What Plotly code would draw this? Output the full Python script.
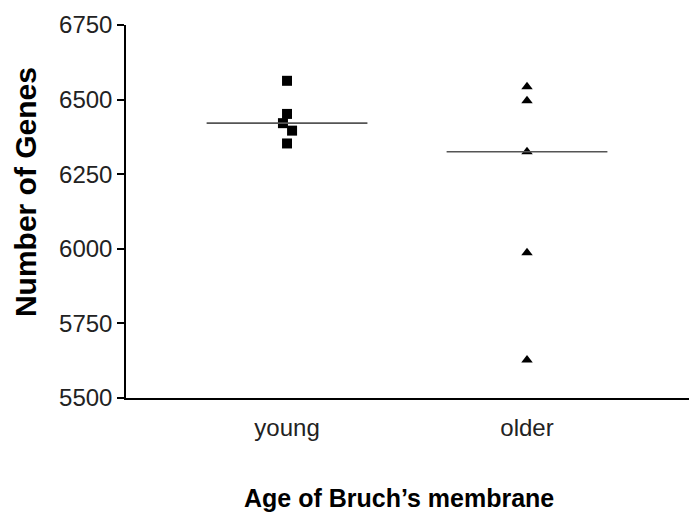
import numpy as np
import plotly.graph_objects as go


# ==========================================================
# DATA
# ==========================================================

GROUPS = ["young", "older"]

YOUNG = [6563, 6452, 6421, 6396, 6353]

OLDER = [6543, 6496, 6325, 5987, 5627]

Y_TICKS = [5500, 5750, 6000, 6250, 6500, 6750]


# ==========================================================
# STYLE
# ==========================================================

FONT = "Liberation Sans, Arial, sans-serif"

INK = "#111111"

MEDIAN = "#555555"

HALF_WIDTH = 0.335


fig = go.Figure()

series = [
    (YOUNG, "square", 10, [0.0, 0.0, -0.017, 0.021, 0.0]),
    (OLDER, "triangle-up", 10, [0, 0, 0, 0, 0]),
]

for i, (values, symbol, size, jitter) in enumerate(series):

    pos = i + 1

    # small horizontal offsets where the points overlap
    fig.add_trace(
        go.Scatter(
            x=[pos + j for j in jitter],
            y=values,
            mode="markers",
            marker=dict(symbol=symbol, size=size, color="black"),
            showlegend=False,
            hoverinfo="y",
        )
    )

    med = float(np.median(values))

    fig.add_trace(
        go.Scatter(
            x=[pos - HALF_WIDTH, pos + HALF_WIDTH],
            y=[med, med],
            mode="lines",
            line=dict(color=MEDIAN, width=1.6),
            showlegend=False,
            hoverinfo="skip",
        )
    )


# page body keeps an 8px margin, so the figure is a bit smaller
fig.update_layout(
    width=684,
    height=506,
    paper_bgcolor="white",
    plot_bgcolor="white",
    font=dict(family=FONT, color=INK),
    margin=dict(l=118, r=3, t=17, b=116),
)

fig.update_xaxes(
    range=[0.329, 2.675],
    tickvals=[1, 2],
    ticktext=GROUPS,
    ticks="",
    showgrid=False,
    zeroline=False,
    showline=True,
    linecolor="black",
    linewidth=1.5,
    tickfont=dict(size=24, color="#222222"),
    ticklabelstandoff=7,
)

fig.update_yaxes(
    range=[5500, 6750],
    tickvals=Y_TICKS,
    ticks="outside",
    ticklen=7,
    tickwidth=1.5,
    tickcolor="black",
    showgrid=False,
    zeroline=False,
    showline=True,
    linecolor="black",
    linewidth=1.5,
    tickfont=dict(size=24, color="#222222"),
)

# axis titles as annotations, they sit a little off centre in the original
fig.add_annotation(
    text="<b>Age of Bruch’s membrane</b>",
    xref="paper",
    yref="paper",
    x=0.5,
    y=0,
    xanchor="center",
    yanchor="middle",
    xshift=-9,
    yshift=-100,
    showarrow=False,
    font=dict(size=25, color="black"),
)

fig.add_annotation(
    text="<b>Number of Genes</b>",
    xref="paper",
    yref="paper",
    x=0,
    y=0.552,
    xanchor="center",
    yanchor="middle",
    xshift=-101,
    textangle=-90,
    showarrow=False,
    font=dict(size=30, color="black"),
)

fig.write_html("out.html")
